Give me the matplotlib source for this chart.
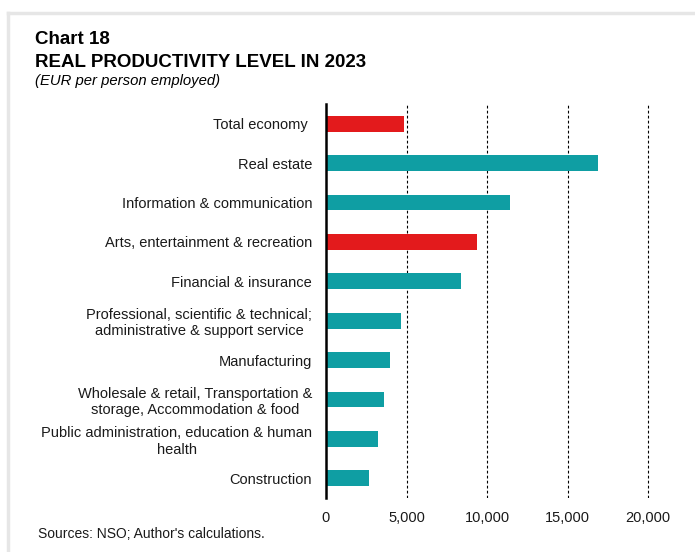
import numpy as np
import matplotlib.pyplot as plt
from matplotlib.lines import Line2D

plt.rcParams['font.family'] = ['Liberation Sans', 'DejaVu Sans']

sectors = [
    'Total economy ',
    'Real estate',
    'Information & communication',
    'Arts, entertainment & recreation',
    'Financial & insurance',
    'Professional, scientific & technical;\nadministrative & support service',
    'Manufacturing',
    'Wholesale & retail, Transportation &\nstorage, Accommodation & food',
    'Public administration, education & human\nhealth',
    'Construction',
]
productivity = [4850, 16900, 11400, 9350, 8400, 4650, 3950, 3600, 3200, 2650]
highlight = [True, False, False, True, False, False, False, False, False, False]
xticks = [0, 5000, 10000, 15000, 20000]

teal = '#0f9ea3'
red = '#e31a1c'
colors = [red if h else teal for h in highlight]

fig = plt.figure(figsize=(6.95, 5.52), dpi=100)
ax = fig.add_axes([0.469, 0.0978, 0.956 - 0.469, 0.8116 - 0.0978])

y = np.arange(len(sectors))
ax.barh(y, productivity, height=0.4, color=colors, zorder=3)

ax.set_ylim(len(sectors) - 0.5, -0.5)
ax.set_xlim(0, 21000)
ax.set_yticks(y)
ax.set_yticklabels(sectors, fontsize=10.5, multialignment='center')
ax.set_xticks(xticks)
ax.set_xticklabels([f'{v:,}' for v in xticks], fontsize=10.5)
ax.tick_params(axis='y', length=0, pad=10, colors='#1a1a1a')
ax.tick_params(axis='x', length=0, pad=9, colors='#1a1a1a')

for s in ['top', 'right', 'bottom']:
    ax.spines[s].set_visible(False)
ax.spines['left'].set_linewidth(1.8)
ax.spines['left'].set_zorder(4)

ax.grid(axis='x', color='black', linestyle=(0, (2.5, 2)), linewidth=0.8, zorder=1)
ax.set_axisbelow(True)
# keep the 0 gridline hidden behind the spine
ax.get_xgridlines()[0].set_visible(False)

# light frame along the top and left edges
fig.add_artist(Line2D([8 / 695, 1], [1 - 13 / 552] * 2, color='#e6e6e6', linewidth=2.5))
fig.add_artist(Line2D([8 / 695] * 2, [0, 1 - 13 / 552], color='#e6e6e6', linewidth=2.5))

fig.text(35 / 695, 1 - 40 / 552, 'Chart 18', fontsize=13.5, fontweight='bold', va='center')
fig.text(35 / 695, 1 - 62 / 552, 'REAL PRODUCTIVITY LEVEL IN 2023', fontsize=13.5,
         fontweight='bold', va='center')
fig.text(35 / 695, 1 - 81 / 552, '(EUR per person employed)', fontsize=10.75,
         style='italic', va='center')
fig.text(38 / 695, 1 - 534 / 552, "Sources: NSO; Author's calculations.", fontsize=10,
         va='center', color='#1a1a1a')

fig.savefig('out.png', dpi=100)
